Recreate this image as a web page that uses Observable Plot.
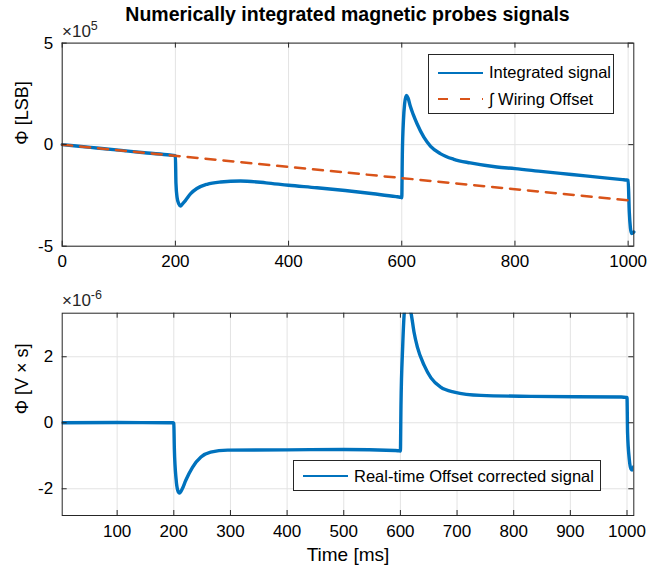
<!DOCTYPE html>
<html>
<head>
<meta charset="utf-8">
<script src="https://cdn.jsdelivr.net/npm/d3@7"></script>
<script src="https://cdn.jsdelivr.net/npm/@observablehq/plot@0.6"></script>
<style>
  html, body { margin: 0; padding: 0; background: #fff; }
  #wrap { position: relative; width: 664px; height: 576px; font-family: "Liberation Sans", Arial, Helvetica, sans-serif; color: #262626; overflow: hidden; }
  .abs { position: absolute; }
  #title { left: 0; width: 695px; top: 5px; text-align: center; font-weight: bold; font-size: 19.5px; line-height: 19px; color: #000; }
  .expo { font-size: 17px; line-height: 17px; white-space: nowrap; }
  .expo sup { font-size: 12.5px; vertical-align: 7px; line-height: 0; }
  .legend { background: #fff; border: 1px solid #262626; box-sizing: border-box; font-size: 16.5px; color: #000; }
  .legend .row { position: absolute; left: 0; height: 20px; display: flex; align-items: center; white-space: nowrap; }
  .legend svg { display: block; }
</style>
</head>
<body>
<div id="wrap">
  <div id="title" class="abs"></div>
</div>
<script>
// ---------- data ----------
// Top panel: integrated signal (values in units of 1e5 LSB)
const intTime = [0, 50, 100, 150, 190, 196, 199, 200, 201, 203, 206, 209, 213, 218, 227, 238, 256, 280, 315, 360, 400, 450, 500, 550, 590, 597, 599, 600, 601, 603, 605, 608, 611, 615, 620, 627, 639, 651, 668, 692, 721, 768, 800, 850, 900, 950, 990, 997, 999, 1000, 1002, 1004, 1006, 1010];
const intValue = [0, -0.135, -0.27, -0.41, -0.51, -0.53, -0.54, -0.55, -1.9, -2.6, -2.92, -3.02, -2.9, -2.74, -2.41, -2.16, -1.95, -1.84, -1.79, -1.88, -2.0, -2.12, -2.26, -2.42, -2.56, -2.59, -2.6, -2.62, -0.5, 1.2, 2.0, 2.42, 2.3, 1.9, 1.5, 1.03, 0.37, -0.08, -0.44, -0.72, -0.9, -1.1, -1.18, -1.33, -1.47, -1.61, -1.72, -1.74, -1.75, -1.76, -3.3, -4.1, -4.38, -4.3];
// Top panel: integrated wiring offset (units of 1e5 LSB)
const offTime = [0, 1010];
const offValue = [0, -2.77];
// Bottom panel: real-time offset corrected signal (units of 1e-6 V·s)
const corTime = [3, 100, 190, 199, 200, 201, 204, 207, 210, 215, 221, 233, 248, 265, 295, 400, 500, 590, 599, 600, 601, 604, 607, 611, 615, 619, 624, 630, 642, 654, 671, 695, 742, 830, 990, 999, 1000, 1001, 1004, 1007, 1009, 1012];
const corValue = [0, 0.01, 0, 0, -0.02, -0.8, -1.7, -2.05, -2.13, -2.0, -1.75, -1.35, -1.04, -0.89, -0.83, -0.82, -0.81, -0.84, -0.85, -0.86, 0.5, 2.3, 3.35, 3.6, 3.55, 3.3, 2.75, 2.29, 1.74, 1.36, 1.08, 0.93, 0.83, 0.8, 0.78, 0.77, 0.77, -0.3, -1.1, -1.4, -1.43, -1.33];

const topXTicks = [0, 200, 400, 600, 800, 1000];
const topYTicks = [-5, 0, 5];
const botXTicks = [100, 200, 300, 400, 500, 600, 700, 800, 900, 1000];
const botYTicks = [-2, 0, 2];

const chartTitle = "Numerically integrated magnetic probes signals";
const topYLabel = "\u03A6 [LSB]";
const botYLabel = "\u03A6 [V \u00D7 s]";
const botXLabel = "Time [ms]";
const seriesNames = ["Integrated signal", "\u222B Wiring Offset", "Real-time Offset corrected signal"];

// ---------- style ----------
const BLUE = "#0072BD", ORANGE = "#D95319", AX = "#262626", GRID = "#e3e3e3";
const FONT = "'Liberation Sans', Arial, Helvetica, sans-serif";

const intData = intTime.map((t, i) => ({t, v: intValue[i]}));
const offData = offTime.map((t, i) => ({t, v: offValue[i]}));
const corData = corTime.map((t, i) => ({t, v: corValue[i]}));

function inwardTicks(xt, yt, innerW, innerH) {
  const L = 5;
  return [
    Plot.ruleX(xt, {x: d => d, insetTop: innerH - L, stroke: AX, strokeWidth: 1}),
    Plot.ruleX(xt, {x: d => d, insetBottom: innerH - L, stroke: AX, strokeWidth: 1}),
    Plot.ruleY(yt, {y: d => d, insetRight: innerW - L, stroke: AX, strokeWidth: 1}),
    Plot.ruleY(yt, {y: d => d, insetLeft: innerW - L, stroke: AX, strokeWidth: 1})
  ];
}

// ---------- top panel ----------
const W = 664;
const tm = {top: 42.6, bottom: 44.3, left: 61.7, right: 30.7}, tH = 290;
const topChart = Plot.plot({
  width: W, height: tH,
  marginTop: tm.top, marginBottom: tm.bottom, marginLeft: tm.left, marginRight: tm.right,
  x: {domain: [0, 1010], label: null},
  y: {domain: [-5, 5], label: null},
  style: {fontFamily: FONT, fontSize: "17px", color: AX, background: "transparent", overflow: "visible"},
  marks: [
    Plot.gridX(topXTicks, {stroke: GRID, strokeOpacity: 1}),
    Plot.gridY(topYTicks, {stroke: GRID, strokeOpacity: 1}),
    Plot.line(intData, {x: "t", y: "v", stroke: BLUE, strokeWidth: 3.4, strokeLinejoin: "round", curve: "monotone-x"}),
    Plot.line(offData, {x: "t", y: "v", stroke: ORANGE, strokeWidth: 2.5, strokeDasharray: "10,8"}),
    Plot.frame({stroke: AX, strokeWidth: 1}),
    ...inwardTicks(topXTicks, topYTicks, W - tm.left - tm.right, tH - tm.top - tm.bottom),
    Plot.axisX(topXTicks, {tickSize: 0, tickPadding: 9, tickFormat: d => String(d), label: null, fill: "#000"}),
    Plot.axisY(topYTicks, {tickSize: 0, tickPadding: 9, tickFormat: d => String(d), label: null, fill: "#000"}),
    Plot.text([topYLabel], {text: d => d, frameAnchor: "left", rotate: -90, dx: -40, fontSize: 18, fill: "#000"})
  ]
});
topChart.style.position = "absolute"; topChart.style.left = "0px"; topChart.style.top = "0px";

// ---------- bottom panel ----------
const bm = {top: 22.7, bottom: 61, left: 61.7, right: 30.7}, bH = 286;
const bottomChart = Plot.plot({
  width: W, height: bH,
  marginTop: bm.top, marginBottom: bm.bottom, marginLeft: bm.left, marginRight: bm.right,
  x: {domain: [3, 1012], label: null},
  y: {domain: [-2.81, 3.32], label: null},
  style: {fontFamily: FONT, fontSize: "17px", color: AX, background: "transparent", overflow: "visible"},
  marks: [
    Plot.gridX(botXTicks, {stroke: GRID, strokeOpacity: 1}),
    Plot.gridY(botYTicks, {stroke: GRID, strokeOpacity: 1}),
    Plot.line(corData, {x: "t", y: "v", stroke: BLUE, strokeWidth: 3.4, strokeLinejoin: "round", curve: "monotone-x", clip: true}),
    Plot.frame({stroke: AX, strokeWidth: 1}),
    ...inwardTicks(botXTicks, botYTicks, W - bm.left - bm.right, bH - bm.top - bm.bottom),
    Plot.axisX(botXTicks, {tickSize: 0, tickPadding: 9, tickFormat: d => String(d), label: null, fill: "#000"}),
    Plot.axisY(botYTicks, {tickSize: 0, tickPadding: 9, tickFormat: d => String(d), label: null, fill: "#000"}),
    Plot.text([botYLabel], {text: d => d, frameAnchor: "left", rotate: -90, dx: -40, fontSize: 18, fill: "#000"}),
    Plot.text([botXLabel], {text: d => d, frameAnchor: "bottom", dy: 45, fontSize: 19, fill: "#000"})
  ]
});
bottomChart.style.position = "absolute"; bottomChart.style.left = "0px"; bottomChart.style.top = "290px";

const wrap = document.getElementById("wrap");
wrap.appendChild(topChart);
wrap.appendChild(bottomChart);
document.getElementById("title").textContent = chartTitle;

// exponent labels
function addExpo(left, topPx, exp) {
  const d = document.createElement("div");
  d.className = "abs expo";
  d.style.left = left + "px"; d.style.top = topPx + "px";
  d.innerHTML = "\u00D710<sup>" + exp + "</sup>";
  wrap.appendChild(d);
}
addExpo(62, 23, "5");
addExpo(62, 292, "-6");

// legends
function lineSample(color, dash) {
  return `<svg width="46" height="6"><line x1="0" y1="3" x2="45" y2="3" stroke="${color}" stroke-width="2" ${dash ? `stroke-dasharray="${dash}"` : ""}/></svg>`;
}
function addLegend(left, topPx, w, h, rows) {
  const box = document.createElement("div");
  box.className = "abs legend";
  Object.assign(box.style, {left: left + "px", top: topPx + "px", width: w + "px", height: h + "px"});
  rows.forEach(r => {
    const row = document.createElement("div");
    row.className = "row";
    row.style.top = (r.y - 10) + "px";
    row.style.left = "9px";
    row.innerHTML = lineSample(r.color, r.dash) + `<span style="margin-left:5px">${r.name}</span>`;
    box.appendChild(row);
  });
  wrap.appendChild(box);
}
addLegend(428, 54, 186, 60, [
  {name: seriesNames[0], color: BLUE, y: 17.5},
  {name: seriesNames[1], color: ORANGE, dash: "10,12", y: 44}
]);
addLegend(293, 460, 308, 31, [
  {name: seriesNames[2], color: BLUE, y: 15}
]);
</script>
</body>
</html>
